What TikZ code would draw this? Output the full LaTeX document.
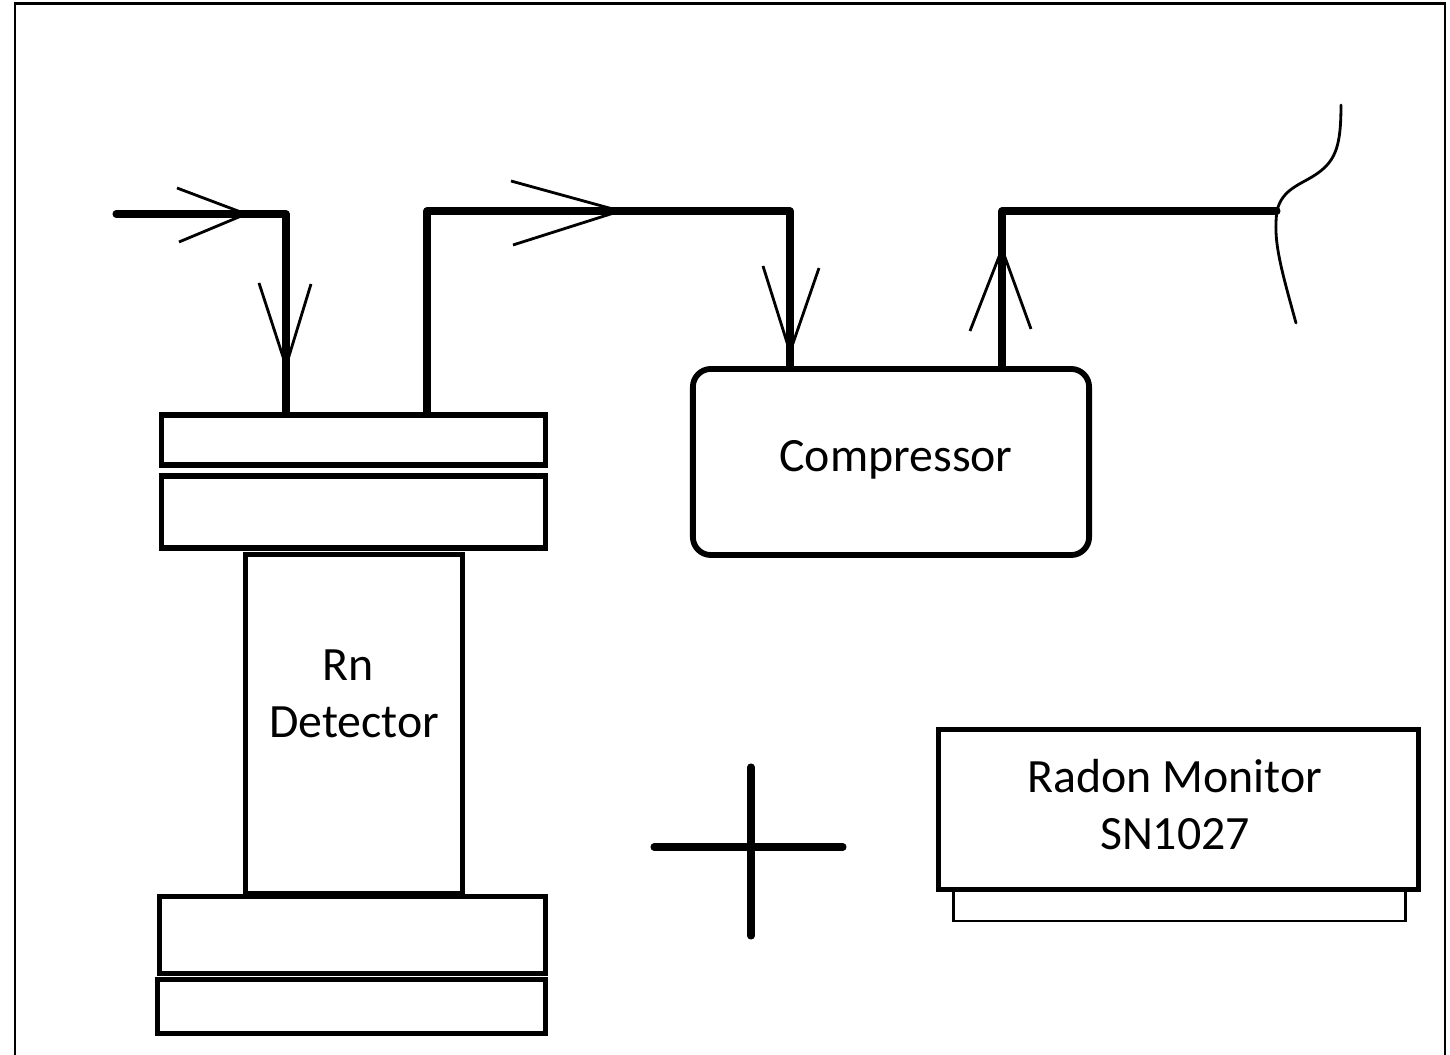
\documentclass[tikz,border=0pt]{standalone}
\usepackage{fontspec}
\setmainfont{Carlito}
\usetikzlibrary{arrows.meta, positioning}

\begin{document}
\begin{tikzpicture}[
        x=0.01cm, y=-0.01cm,
        plate/.style={rectangle, draw, inner sep=0pt, line width=1.45pt},
        pipe/.style={line width=2pt, line cap=round, line join=round},
        barb/.style={line width=0.8pt, line join=miter},
        boxtext/.style={font=\fontsize{13.6}{16.2}\selectfont, inner sep=0pt, align=center}]

    \useasboundingbox (0,0) rectangle (1450,1055);

    % frame, open at the bottom
    \coordinate (frameBL) at (15,1055);
    \coordinate (frameTL) at (15,4);
    \coordinate (frameTR) at (1445,4);
    \coordinate (frameBR) at (1445,1055);
    \draw[line width=0.85pt] (frameBL) -- (frameTL) -- (frameTR) -- (frameBR);

    % detector stack
    \node[plate, minimum width=3.83cm, minimum height=0.50cm] (topA) at (353.5,440) {};
    \node[plate, minimum width=3.83cm, minimum height=0.72cm] (topB) at (353.5,512) {};
    \node[plate, minimum width=2.16cm, minimum height=3.38cm] (detector) at (354,724) {};
    \node[plate, minimum width=3.855cm, minimum height=0.765cm] (botA) at (352.5,935) {};
    \node[plate, minimum width=3.87cm, minimum height=0.545cm] (botB) at (351.5,1006.5) {};
    \node[boxtext] (rnLabel) at (348,665) {Rn};
    \node[boxtext] (detLabel) at (354,722) {Detector};

    % compressor
    \node[plate, line width=1.65pt, rounded corners=0.18cm, minimum width=3.96cm, minimum height=1.86cm] (compressor) at (891,462) {};
    \node[boxtext] (compLabel) at (896,460) {Compressor};

    % monitor
    \node[plate, line width=0.8pt, minimum width=4.51cm, minimum height=0.42cm] (base) at (1179.5,900) {};
    \node[plate, fill=white, line width=1.55pt, minimum width=4.80cm, minimum height=1.60cm] (monitor) at (1178.5,809.5) {};
    \node[boxtext] (monLabel) at (1175,805) {Radon Monitor\\SN1027};

    % plus sign
    \coordinate (plusW) at (654,847);
    \coordinate (plusE) at (843,847);
    \coordinate (plusN) at (751,767);
    \coordinate (plusS) at (751,936);
    \draw[pipe] (plusW) -- (plusE);
    \draw[pipe] (plusN) -- (plusS);

    % pipes
    \coordinate (inlet) at (116,214);
    \coordinate (bendA) at (286,214);
    \coordinate (bendB) at (427,211);
    \coordinate (bendC) at (790,211);
    \coordinate (bendD) at (1002,211);
    \coordinate (outlet) at (1277,211);
    \draw[pipe] (inlet) -- (bendA) -- (bendA |- topA.north);
    \draw[pipe] (bendB |- topA.north) -- (bendB) -- (bendC) -- (bendC |- compressor.north);
    \draw[pipe] (bendD |- compressor.north) -- (bendD) -- (outlet);

    % flow arrows
    \draw[barb] (177,188) -- (246,214) -- (179,242);
    \draw[barb] (259,283) -- (286,366) -- (311,284);
    \draw[barb] (511,181) -- (620,211) -- (513,245);
    \draw[barb] (763,266) -- (790,352) -- (819,268);
    \draw[barb] (970,331) -- (1002,249) -- (1031,329);

    % break in the line
    \draw[barb, line cap=round] (1341,105) .. controls (1341,145) and (1336,160) .. (1318,173)
        .. controls (1303,184) and (1282,188) .. (outlet)
        .. controls (1273,240) and (1280,265) .. (1296,323);

\end{tikzpicture}
\end{document}
